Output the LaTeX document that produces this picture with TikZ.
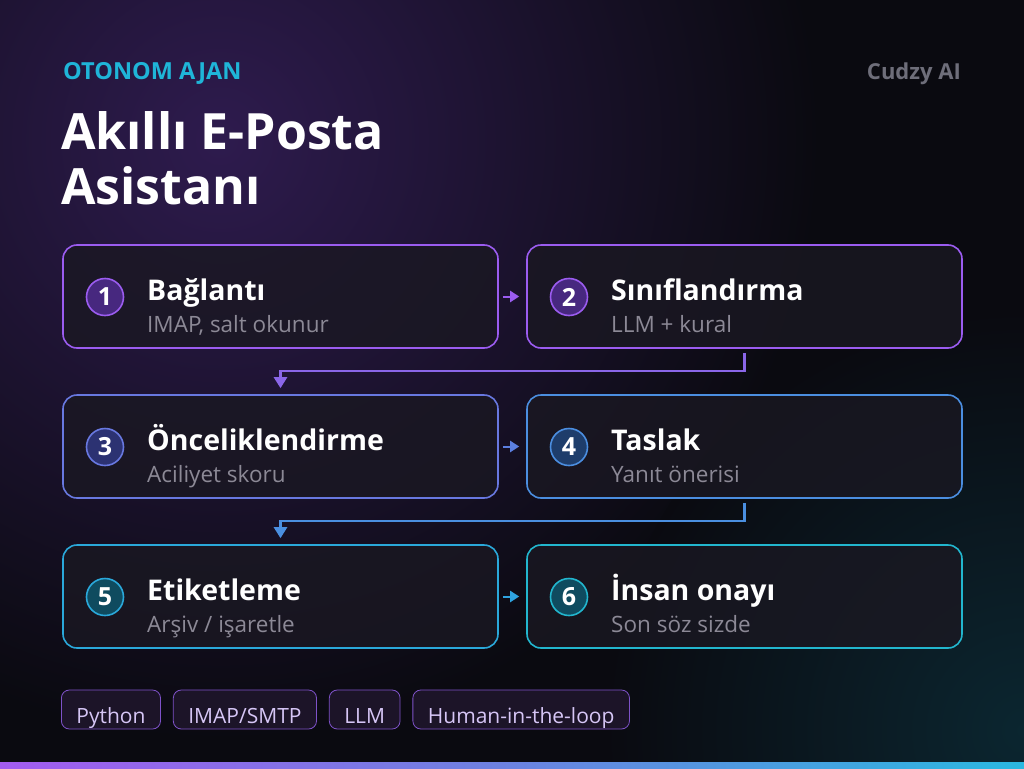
\documentclass[tikz,border=0pt]{standalone}
\usepackage{fontspec}
\setmainfont{Open Sans}
\usetikzlibrary{arrows.meta,positioning}
\definecolor{bg}{HTML}{0A0A10}
\definecolor{glowP}{HTML}{2E1B4E}
\definecolor{glowT}{HTML}{0B2630}
\definecolor{cardfill}{HTML}{1A1822}
\definecolor{subgray}{HTML}{8C8996}
\definecolor{kick}{HTML}{1FB5D8}
\definecolor{brand}{HTML}{6E6E7A}
\definecolor{bP}{HTML}{9B5CF0}
\definecolor{bB}{HTML}{6878E0}
\definecolor{bB2}{HTML}{4B8EE0}
\definecolor{bC}{HTML}{2AA8DA}
\definecolor{bC2}{HTML}{22B6CE}
\definecolor{nP}{HTML}{47287F}
\definecolor{nB}{HTML}{2C3272}
\definecolor{nB2}{HTML}{1E3D6B}
\definecolor{nC}{HTML}{0F4B5F}
\definecolor{aP}{HTML}{9B5CF0}
\definecolor{aP2}{HTML}{8A66E8}
\definecolor{aB}{HTML}{5B7FE0}
\definecolor{aB2}{HTML}{4A8FE0}
\definecolor{aC}{HTML}{2FA3E0}
\definecolor{tagF}{HTML}{1C1428}
\definecolor{tagB}{HTML}{7E52C8}
\definecolor{tagT}{HTML}{D6C6F6}
\definecolor{barL}{HTML}{A35CF0}
\definecolor{barM}{HTML}{6B82E0}
\definecolor{barR}{HTML}{2AB8E0}
\tikzset{
  card/.style={draw, line width=1.6pt, rounded corners=14pt, minimum width=435pt, minimum height=103pt, fill=cardfill, fill opacity=0.8, inner sep=0pt},
  num/.style={circle, draw, line width=1.6pt, minimum size=37pt, inner sep=0pt, text=white, font=\bfseries\fontsize{25}{25}\selectfont},
  ttl/.style={anchor=base west, text=white, font=\bfseries\fontsize{28.5}{32}\selectfont, inner sep=0pt},
  sub/.style={anchor=base west, text=subgray, font=\fontsize{22.5}{26}\selectfont, inner sep=0pt},
  harr/.style={line width=2pt, -{Triangle[length=9pt,width=11pt]}},
  varr/.style={line width=2.5pt, -{Triangle[length=11pt,width=13pt]}},
  tag/.style={draw=tagB, fill=tagF, line width=0.8pt, rounded corners=8pt, text=tagT, font=\fontsize{21}{24}\selectfont, text height=27pt, text depth=0pt, inner ysep=6pt, inner xsep=15pt},
}
\begin{document}
\begin{tikzpicture}[x=1pt,y=-1pt]
\useasboundingbox (0,0) rectangle (1024,768);
\fill[bg] (0,0) rectangle (1024,768);
\begin{scope}
\clip (0,0) rectangle (1024,768);
\shade[inner color=glowP, outer color=bg] (220,140) circle (600);
\shade[inner color=glowT, outer color=bg] (1024,730) circle (420);
\end{scope}

% header
\node[anchor=base west, text=kick, font=\bfseries\fontsize{23.5}{26}\selectfont, inner sep=0pt] (kicker) at (63,79) {OTONOM AJAN};
\node[anchor=base east, text=brand, font=\bfseries\fontsize{22}{26}\selectfont, inner sep=0pt] (brandname) at (961,79) {Cudzy AI};
\node[anchor=base west, text=white, font=\bfseries\fontsize{50}{56}\selectfont, inner sep=0pt] (title1) at (61,149) {Akıllı E-Posta};
\node[anchor=base west, text=white, font=\bfseries\fontsize{50}{56}\selectfont, inner sep=0pt] (title2) at (61,204) {Asistanı};

% cards
\node[card, draw=bP] (c1) at (280.5,296.5) {};
\node[card, draw=bP] (c2) at (744.5,296.5) {};
\node[card, draw=bB] (c3) at (280.5,446.5) {};
\node[card, draw=bB2] (c4) at (744.5,446.5) {};
\node[card, draw=bC] (c5) at (280.5,596.5) {};
\node[card, draw=bC2] (c6) at (744.5,596.5) {};

% numbers
\node[num, draw=bP, fill=nP] (n1) at (105,297) {1};
\node[num, draw=bP, fill=nP] (n2) at (569,297) {2};
\node[num, draw=bB, fill=nB] (n3) at (105,447) {3};
\node[num, draw=bB2, fill=nB2] (n4) at (569,447) {4};
\node[num, draw=bC, fill=nC] (n5) at (105,597) {5};
\node[num, draw=bC2, fill=nC] (n6) at (569,597) {6};

% texts
\node[ttl] (t1) at (147,300) {Bağlantı};
\node[sub] (s1) at (147,332) {IMAP, salt okunur};
\node[ttl] (t2) at (611,300) {Sınıflandırma};
\node[sub] (s2) at (611,332) {LLM + kural};
\node[ttl] (t3) at (147,450) {Önceliklendirme};
\node[sub] (s3) at (147,482) {Aciliyet skoru};
\node[ttl] (t4) at (611,450) {Taslak};
\node[sub] (s4) at (611,482) {Yanıt önerisi};
\node[ttl] (t5) at (147,600) {Etiketleme};
\node[sub] (s5) at (147,632) {Arşiv / işaretle};
\node[ttl] (t6) at (611,600) {İnsan onayı};
\node[sub] (s6) at (611,632) {Son söz sizde};

% connectors
\draw[harr, aP] ([xshift=4pt]c1.east) -- ([xshift=-7pt]c2.west);
\draw[harr, aB] ([xshift=4pt]c3.east) -- ([xshift=-7pt]c4.west);
\draw[harr, aC] ([xshift=4pt]c5.east) -- ([xshift=-7pt]c6.west);
\coordinate (k1) at (280.5,371);
\coordinate (k2) at (280.5,521);
\draw[varr, aP2] ([yshift=-4pt]c2.south) |- (k1) -- ([yshift=6pt]c3.north);
\draw[varr, aB2] ([yshift=-4pt]c4.south) |- (k2) -- ([yshift=6pt]c5.north);

% tags
\node[tag, anchor=west] (g1) at (61,709.5) {Python};
\node[tag, right=12pt of g1] (g2) {IMAP/SMTP};
\node[tag, right=12pt of g2] (g3) {LLM};
\node[tag, right=12pt of g3] (g4) {Human-in-the-loop};

% bottom bar
\shade[left color=barL, right color=barR, middle color=barM] (0,762) rectangle (1024,768);
\end{tikzpicture}
\end{document}
